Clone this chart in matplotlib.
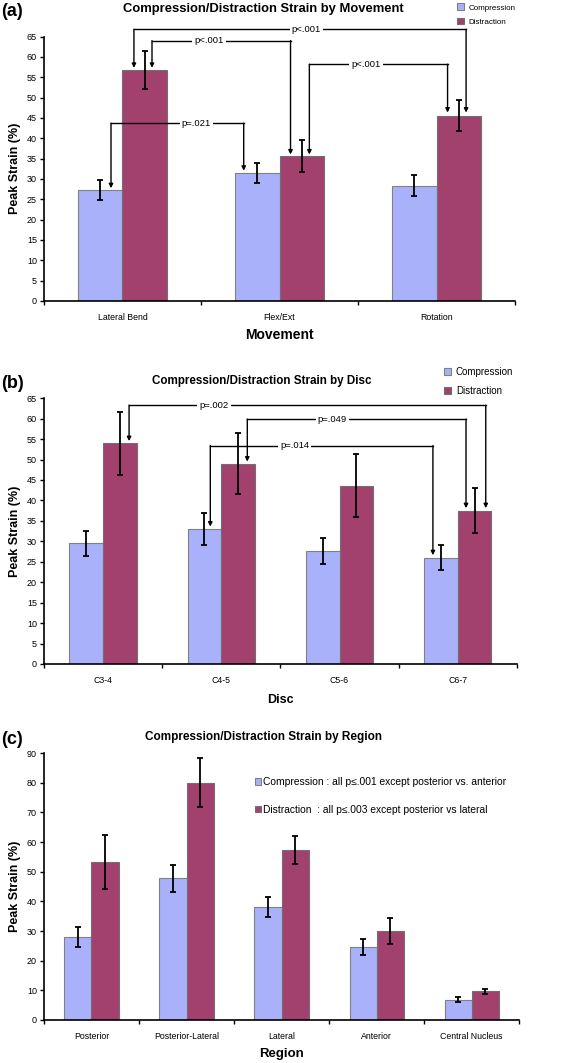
import numpy as np
import matplotlib.pyplot as plt
from matplotlib.ticker import FixedLocator

plt.rcParams['font.family'] = ['Liberation Sans', 'DejaVu Sans']

# /=========================================================================
# data

movements = ["Lateral Bend", "Flex/Ext", "Rotation"]
mov_comp = [27.2, 31.5, 28.3]
mov_comp_err = [2.4, 2.5, 2.6]
mov_dist = [56.8, 35.7, 45.5]
mov_dist_err = [4.7, 3.9, 3.8]

discs = ["C3-4", "C4-5", "C5-6", "C6-7"]
disc_comp = [29.5, 33.0, 27.6, 26.0]
disc_comp_err = [3.0, 4.0, 3.2, 3.1]
disc_dist = [54.0, 49.0, 43.6, 37.5]
disc_dist_err = [7.7, 7.5, 7.7, 5.5]

regions = ["Posterior", "Posterior-Lateral", "Lateral", "Anterior", "Central Nucleus"]
reg_comp = [28.0, 47.8, 38.0, 24.5, 6.8]
reg_comp_err = [3.4, 4.5, 3.4, 2.7, 0.9]
reg_dist = [53.3, 80.0, 57.3, 30.0, 9.6]
reg_dist_err = [9.2, 8.3, 4.6, 4.3, 1.0]

# =========================================================================/

C_COMP = "#aab1fb"
C_DIST = "#a3416e"
W = 0.285


def bars(ax, cats, comp, comp_err, dist, dist_err, ymax, ystep):
    x = np.arange(len(cats))
    ekw = dict(elinewidth=1.3, capthick=1.3, capsize=2.5, ecolor="black")
    ax.bar(x - W/2, comp, W, color=C_COMP, edgecolor="#808080", lw=0.8,
           yerr=comp_err, error_kw=ekw, label="Compression", zorder=2)
    ax.bar(x + W/2, dist, W, color=C_DIST, edgecolor="#707070", lw=0.8,
           yerr=dist_err, error_kw=ekw, label="Distraction", zorder=2)
    ax.set_xlim(-0.5, len(cats) - 0.5)
    ax.set_ylim(0, ymax)
    ax.set_yticks(np.arange(0, ymax + 1, ystep))
    ax.set_xticks(x)
    ax.set_xticklabels(cats, fontsize=6.3)
    ax.xaxis.set_minor_locator(FixedLocator(np.arange(-0.5, len(cats), 1.0)))
    ax.tick_params(axis="x", which="major", length=0, pad=8.5)
    ax.tick_params(axis="x", which="minor", length=3, width=1)
    ax.tick_params(axis="y", length=3, width=1, labelsize=6.5, pad=2)
    for s in ["top", "right"]:
        ax.spines[s].set_visible(False)
    for s in ["left", "bottom"]:
        ax.spines[s].set_linewidth(1.2)
    ax.set_ylabel("Peak Strain (%)", fontsize=9, fontweight="bold")


def bracket(ax, x1, y1, x2, y2, ytop, label, xl):
    ax.plot([x1, x2], [ytop, ytop], color="black", lw=1, clip_on=False, zorder=3)
    for xx, yy in [(x1, y1), (x2, y2)]:
        ax.annotate("", xy=(xx, yy), xytext=(xx, ytop),
                    arrowprops=dict(arrowstyle="-|>", lw=1, color="black",
                                    shrinkA=0, shrinkB=0, mutation_scale=6),
                    annotation_clip=False, zorder=3)
    ax.text(xl, ytop, label, fontsize=6.8, ha="center", va="center", zorder=4,
            bbox=dict(fc="white", ec="none", pad=1.5))


fig = plt.figure(figsize=(5.86, 10.63), dpi=100)

# (a) by movement
ax1 = fig.add_axes([0.075, 0.717, 0.804, 0.2486])
bars(ax1, movements, mov_comp, mov_comp_err, mov_dist, mov_dist_err, 65, 5)
ax1.set_xlabel("Movement", fontsize=10, fontweight="bold", labelpad=4.5)
bracket(ax1, 0.073, 57.3, 2.188, 46.3, 66.8, "p<.001", 1.17)
bracket(ax1, 0.188, 57.3, 1.07, 36.0, 64.0, "p<.001", 0.55)
bracket(ax1, 1.19, 36.0, 2.07, 46.3, 58.2, "p<.001", 1.55)
bracket(ax1, -0.073, 27.7, 0.772, 32.0, 43.7, "p=.021", 0.47)
ax1.legend(loc="upper left", bbox_to_anchor=(0.7675, 1.0036),
           bbox_transform=fig.transFigure, frameon=False, fontsize=5.8,
           handlelength=0.9, handleheight=0.9, handletextpad=0.5,
           labelspacing=0.75)
fig.text(0.45, 0.9915, "Compression/Distraction Strain by Movement",
         fontsize=9.4, fontweight="bold", ha="center", va="center")
fig.text(0.002, 0.9895, "(a)", fontsize=13, fontweight="bold", va="center")

# (b) by disc
ax2 = fig.add_axes([0.075, 0.3754, 0.807, 0.250])
bars(ax2, discs, disc_comp, disc_comp_err, disc_dist, disc_dist_err, 65, 5)
ax2.set_xlabel("Disc", fontsize=9, fontweight="bold", labelpad=7)
bracket(ax2, 0.22, 54.5, 3.237, 38.1, 63.3, "p=.002", 0.94)
bracket(ax2, 1.22, 49.5, 3.07, 38.1, 59.9, "p=.049", 1.94)
bracket(ax2, 0.907, 33.6, 2.79, 26.6, 53.4, "p=.014", 1.62)
ax2.legend(loc="upper left", bbox_to_anchor=(0.743, 0.6627),
           bbox_transform=fig.transFigure, frameon=False, fontsize=7,
           handlelength=0.7, handleheight=0.7, handletextpad=0.5,
           labelspacing=0.85)
fig.text(0.447, 0.6415, "Compression/Distraction Strain by Disc",
         fontsize=8.4, fontweight="bold", ha="center", va="center")
fig.text(0.002, 0.6395, "(b)", fontsize=13, fontweight="bold", va="center")

# (c) by region
ax3 = fig.add_axes([0.075, 0.0405, 0.811, 0.251])
bars(ax3, regions, reg_comp, reg_comp_err, reg_dist, reg_dist_err, 90, 10)
ax3.set_xlabel("Region", fontsize=9.5, fontweight="bold", labelpad=5.5)
h, _ = ax3.get_legend_handles_labels()
ax3.legend(h, ["Compression : all p\u2264.001 except posterior vs. anterior",
               "Distraction  : all p\u2264.003 except posterior vs lateral"],
           loc="upper left", bbox_to_anchor=(0.4195, 0.2778),
           bbox_transform=fig.transFigure, frameon=False, fontsize=7.4,
           handlelength=0.6, handleheight=0.6, handletextpad=0.15,
           labelspacing=1.72)
fig.text(0.449, 0.3065, "Compression/Distraction Strain by Region",
         fontsize=8.45, fontweight="bold", ha="center", va="center")
fig.text(0.002, 0.3045, "(c)", fontsize=13, fontweight="bold", va="center")

fig.savefig("out.png", dpi=100)
